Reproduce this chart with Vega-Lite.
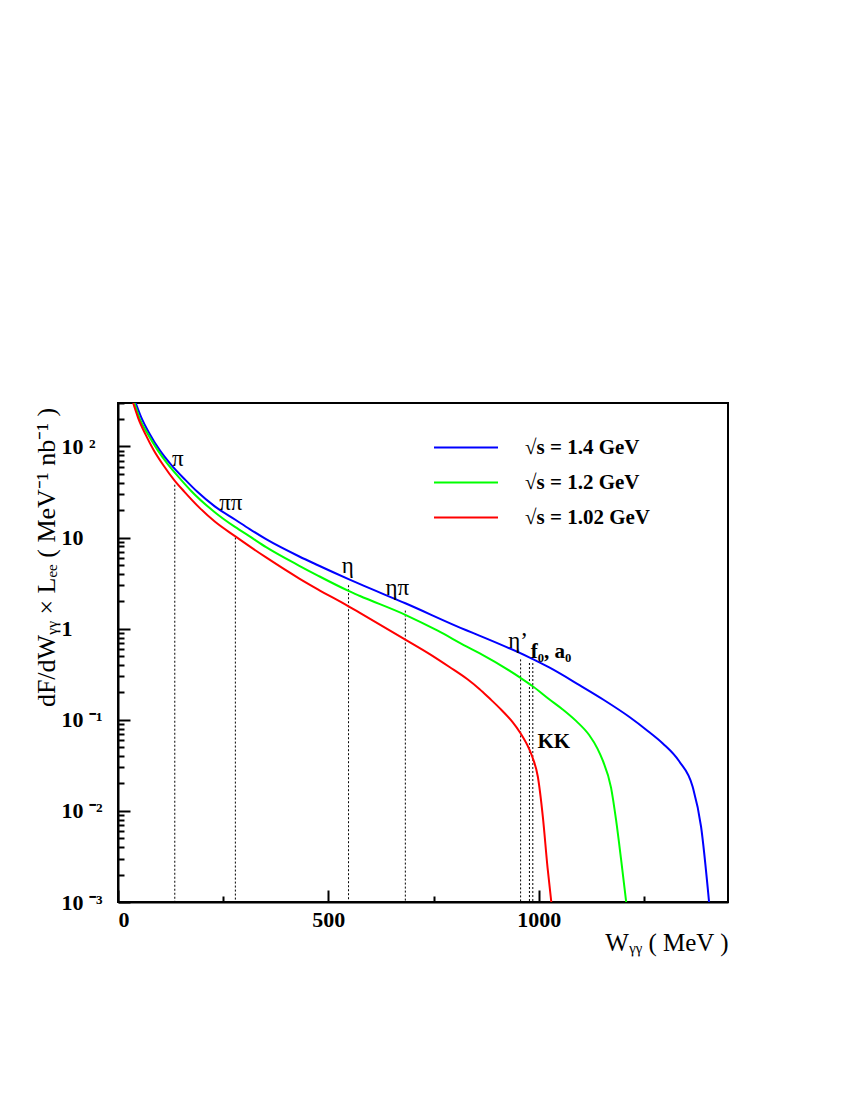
{
  "$schema": "https://vega.github.io/schema/vega-lite/v6.json",
  "autosize": {"type": "none"},
  "padding": {"left": 118, "top": 403, "right": 122, "bottom": 198},
  "width": 610,
  "height": 499,
  "background": "white",
  "config": {
    "view": {"stroke": "black", "strokeWidth": 2},
    "font": "Liberation Serif"
  },
  "datasets": {
    "curves": [
      {"W": 42, "F": 300, "s": "√s = 1.4 GeV"},
      {"W": 55, "F": 210, "s": "√s = 1.4 GeV"},
      {"W": 75, "F": 138, "s": "√s = 1.4 GeV"},
      {"W": 100, "F": 90, "s": "√s = 1.4 GeV"},
      {"W": 127, "F": 62.5, "s": "√s = 1.4 GeV"},
      {"W": 160, "F": 43, "s": "√s = 1.4 GeV"},
      {"W": 188, "F": 32, "s": "√s = 1.4 GeV"},
      {"W": 230, "F": 22, "s": "√s = 1.4 GeV"},
      {"W": 279, "F": 15.7, "s": "√s = 1.4 GeV"},
      {"W": 313, "F": 12.4, "s": "√s = 1.4 GeV"},
      {"W": 352, "F": 9.6, "s": "√s = 1.4 GeV"},
      {"W": 431, "F": 6.2, "s": "√s = 1.4 GeV"},
      {"W": 474, "F": 5.0, "s": "√s = 1.4 GeV"},
      {"W": 548, "F": 3.5, "s": "√s = 1.4 GeV"},
      {"W": 574, "F": 3.1, "s": "√s = 1.4 GeV"},
      {"W": 683, "F": 1.9, "s": "√s = 1.4 GeV"},
      {"W": 828, "F": 0.96, "s": "√s = 1.4 GeV"},
      {"W": 859, "F": 0.84, "s": "√s = 1.4 GeV"},
      {"W": 975, "F": 0.49, "s": "√s = 1.4 GeV"},
      {"W": 1025, "F": 0.375, "s": "√s = 1.4 GeV"},
      {"W": 1097, "F": 0.24, "s": "√s = 1.4 GeV"},
      {"W": 1155, "F": 0.165, "s": "√s = 1.4 GeV"},
      {"W": 1215, "F": 0.108, "s": "√s = 1.4 GeV"},
      {"W": 1260, "F": 0.075, "s": "√s = 1.4 GeV"},
      {"W": 1295, "F": 0.055, "s": "√s = 1.4 GeV"},
      {"W": 1334, "F": 0.035, "s": "√s = 1.4 GeV"},
      {"W": 1366, "F": 0.0184, "s": "√s = 1.4 GeV"},
      {"W": 1386, "F": 0.0067, "s": "√s = 1.4 GeV"},
      {"W": 1405, "F": 0.001, "s": "√s = 1.4 GeV"},
      {"W": 39, "F": 300, "s": "√s = 1.2 GeV"},
      {"W": 52, "F": 200, "s": "√s = 1.2 GeV"},
      {"W": 70.5, "F": 138, "s": "√s = 1.2 GeV"},
      {"W": 95, "F": 90, "s": "√s = 1.2 GeV"},
      {"W": 116, "F": 66, "s": "√s = 1.2 GeV"},
      {"W": 150, "F": 43, "s": "√s = 1.2 GeV"},
      {"W": 174, "F": 32.5, "s": "√s = 1.2 GeV"},
      {"W": 230, "F": 19, "s": "√s = 1.2 GeV"},
      {"W": 279, "F": 13, "s": "√s = 1.2 GeV"},
      {"W": 313, "F": 10.3, "s": "√s = 1.2 GeV"},
      {"W": 352, "F": 7.85, "s": "√s = 1.2 GeV"},
      {"W": 431, "F": 4.9, "s": "√s = 1.2 GeV"},
      {"W": 474, "F": 3.85, "s": "√s = 1.2 GeV"},
      {"W": 548, "F": 2.6, "s": "√s = 1.2 GeV"},
      {"W": 574, "F": 2.3, "s": "√s = 1.2 GeV"},
      {"W": 683, "F": 1.42, "s": "√s = 1.2 GeV"},
      {"W": 760, "F": 0.95, "s": "√s = 1.2 GeV"},
      {"W": 828, "F": 0.64, "s": "√s = 1.2 GeV"},
      {"W": 859, "F": 0.54, "s": "√s = 1.2 GeV"},
      {"W": 956, "F": 0.29, "s": "√s = 1.2 GeV"},
      {"W": 985, "F": 0.235, "s": "√s = 1.2 GeV"},
      {"W": 1025, "F": 0.168, "s": "√s = 1.2 GeV"},
      {"W": 1057, "F": 0.13, "s": "√s = 1.2 GeV"},
      {"W": 1090, "F": 0.096, "s": "√s = 1.2 GeV"},
      {"W": 1120, "F": 0.068, "s": "√s = 1.2 GeV"},
      {"W": 1140, "F": 0.048, "s": "√s = 1.2 GeV"},
      {"W": 1152, "F": 0.036, "s": "√s = 1.2 GeV"},
      {"W": 1172, "F": 0.018, "s": "√s = 1.2 GeV"},
      {"W": 1184, "F": 0.0079, "s": "√s = 1.2 GeV"},
      {"W": 1196, "F": 0.0029, "s": "√s = 1.2 GeV"},
      {"W": 1208, "F": 0.001, "s": "√s = 1.2 GeV"},
      {"W": 36, "F": 300, "s": "√s = 1.02 GeV"},
      {"W": 48, "F": 205, "s": "√s = 1.02 GeV"},
      {"W": 66, "F": 134, "s": "√s = 1.02 GeV"},
      {"W": 85, "F": 91, "s": "√s = 1.02 GeV"},
      {"W": 107, "F": 63, "s": "√s = 1.02 GeV"},
      {"W": 135, "F": 42, "s": "√s = 1.02 GeV"},
      {"W": 158, "F": 31.8, "s": "√s = 1.02 GeV"},
      {"W": 194, "F": 21.2, "s": "√s = 1.02 GeV"},
      {"W": 230, "F": 15, "s": "√s = 1.02 GeV"},
      {"W": 279, "F": 10.3, "s": "√s = 1.02 GeV"},
      {"W": 313, "F": 8.0, "s": "√s = 1.02 GeV"},
      {"W": 352, "F": 6.05, "s": "√s = 1.02 GeV"},
      {"W": 431, "F": 3.55, "s": "√s = 1.02 GeV"},
      {"W": 474, "F": 2.72, "s": "√s = 1.02 GeV"},
      {"W": 548, "F": 1.76, "s": "√s = 1.02 GeV"},
      {"W": 574, "F": 1.5, "s": "√s = 1.02 GeV"},
      {"W": 683, "F": 0.76, "s": "√s = 1.02 GeV"},
      {"W": 740, "F": 0.53, "s": "√s = 1.02 GeV"},
      {"W": 788, "F": 0.38, "s": "√s = 1.02 GeV"},
      {"W": 830, "F": 0.28, "s": "√s = 1.02 GeV"},
      {"W": 859, "F": 0.218, "s": "√s = 1.02 GeV"},
      {"W": 883, "F": 0.172, "s": "√s = 1.02 GeV"},
      {"W": 906, "F": 0.136, "s": "√s = 1.02 GeV"},
      {"W": 938, "F": 0.094, "s": "√s = 1.02 GeV"},
      {"W": 956, "F": 0.072, "s": "√s = 1.02 GeV"},
      {"W": 978, "F": 0.047, "s": "√s = 1.02 GeV"},
      {"W": 985, "F": 0.039, "s": "√s = 1.02 GeV"},
      {"W": 998, "F": 0.0237, "s": "√s = 1.02 GeV"},
      {"W": 1010, "F": 0.0085, "s": "√s = 1.02 GeV"},
      {"W": 1021, "F": 0.0024, "s": "√s = 1.02 GeV"},
      {"W": 1030, "F": 0.001, "s": "√s = 1.02 GeV"}
    ],
    "thresholds": [
      {"W": 135, "top": 38, "bottom": 0.001},
      {"W": 279, "top": 10, "bottom": 0.001},
      {"W": 548, "top": 3.0, "bottom": 0.001},
      {"W": 683, "top": 1.58, "bottom": 0.001},
      {"W": 957, "top": 0.46, "bottom": 0.001},
      {"W": 978, "top": 0.42, "bottom": 0.001},
      {"W": 986, "top": 0.42, "bottom": 0.001}
    ],
    "labels": [
      {"W": 142, "F": 72, "label": "π"},
      {"W": 268, "F": 24, "label": "ππ"},
      {"W": 546, "F": 4.9, "label": "η"},
      {"W": 664, "F": 2.8, "label": "ηπ"},
      {"W": 951, "F": 0.74, "label": "η’"}
    ],
    "boldlabels": [
      {"W": 981, "F": 0.56, "label": "f₀, a₀"},
      {"W": 997, "F": 0.057, "label": "KK"}
    ]
  },
  "layer": [
    {
      "data": {"name": "thresholds"},
      "mark": {"type": "rule", "color": "black", "strokeWidth": 1, "strokeDash": [2, 2]},
      "encoding": {
        "x": {"field": "W", "type": "quantitative"},
        "y": {"field": "top", "type": "quantitative"},
        "y2": {"field": "bottom"}
      }
    },
    {
      "data": {"name": "curves"},
      "mark": {"type": "line", "strokeWidth": 2, "interpolate": "monotone", "clip": true},
      "encoding": {
        "x": {
          "field": "W", "type": "quantitative",
          "scale": {"domain": [0, 1450], "nice": false, "zero": false},
          "axis": {
            "values": [0, 250, 500, 750, 1000, 1250],
            "labelExpr": "datum.value % 500 == 0 ? datum.label : ''",
            "format": "d",
            "grid": false,
            "domainColor": "black", "domainWidth": 2,
            "tickColor": "black", "tickWidth": 2,
            "tickSize": {"condition": {"test": "datum.value % 500 == 0", "value": -12}, "value": -6},
            "labelFont": "Liberation Serif", "labelFontWeight": "bold", "labelFontSize": 22,
            "labelColor": "black", "labelPadding": 19,
            "title": "Wᵧᵧ ( MeV )",
            "titleFont": "Liberation Serif", "titleFontWeight": "normal", "titleFontSize": 25,
            "titleColor": "black",
            "titleX": 610, "titleY": 40, "titleAlign": "right", "titleBaseline": "middle", "titleAnchor": null
          }
        },
        "y": {
          "field": "F", "type": "quantitative",
          "scale": {"type": "log", "domain": [0.001, 300], "nice": false},
          "axis": {
            "values": [0.001, 0.002, 0.003, 0.004, 0.005, 0.006, 0.007, 0.008, 0.009,
                       0.01, 0.02, 0.03, 0.04, 0.05, 0.06, 0.07, 0.08, 0.09,
                       0.1, 0.2, 0.3, 0.4, 0.5, 0.6, 0.7, 0.8, 0.9,
                       1, 2, 3, 4, 5, 6, 7, 8, 9,
                       10, 20, 30, 40, 50, 60, 70, 80, 90,
                       100, 200, 300],
            "labelExpr": "datum.value == 100 ? '10 ²' : datum.value == 10 ? '10' : datum.value == 1 ? '\u00a0\u00a01' : datum.value == 0.1 ? '10 ⁻¹' : datum.value == 0.01 ? '10 ⁻²' : datum.value == 0.001 ? '10 ⁻³' : ''",
            "grid": false,
            "domainColor": "black", "domainWidth": 2,
            "tickColor": "black", "tickWidth": 2,
            "tickSize": {"condition": {"test": "indexof([0.001,0.01,0.1,1,10,100], datum.value) >= 0", "value": -12}, "value": -6},
            "labelFont": "Liberation Serif", "labelFontWeight": "bold", "labelFontSize": 22,
            "labelColor": "black", "labelAlign": "left", "labelBaseline": "middle",
            "labelPadding": 69,
            "labelOverlap": false,
            "title": "dF/dWᵧᵧ × Lₑₑ   ( MeV⁻¹ nb⁻¹ )",
            "titleFont": "Liberation Serif", "titleFontWeight": "normal", "titleFontSize": 26,
            "titleColor": "black",
            "titleX": -72, "titleY": 154, "titleAlign": "center", "titleBaseline": "middle", "titleAngle": -90, "titleAnchor": null
          }
        },
        "color": {
          "field": "s", "type": "nominal",
          "scale": {"domain": ["√s = 1.4 GeV", "√s = 1.2 GeV", "√s = 1.02 GeV"], "range": ["#0000ff", "#00ff00", "#ff0000"]},
          "legend": {
            "title": null,
            "orient": "none",
            "legendX": 315, "legendY": 27,
            "direction": "vertical",
            "symbolType": "stroke",
            "symbolSize": 4096,
            "symbolStrokeWidth": 2,
            "clipHeight": 35,
            "labelFont": "Liberation Serif", "labelFontWeight": "bold", "labelFontSize": 21,
            "labelColor": "black", "labelOffset": 26,
            "rowPadding": 0,
            "labelLimit": 300
          }
        }
      }
    },
    {
      "data": {"name": "labels"},
      "mark": {"type": "text", "font": "Liberation Serif", "fontSize": 23, "color": "black", "align": "center", "baseline": "middle"},
      "encoding": {
        "x": {"field": "W", "type": "quantitative"},
        "y": {"field": "F", "type": "quantitative"},
        "text": {"field": "label"}
      }
    },
    {
      "data": {"name": "boldlabels"},
      "mark": {"type": "text", "font": "Liberation Serif", "fontSize": 21, "fontWeight": "bold", "color": "black", "align": "left", "baseline": "middle"},
      "encoding": {
        "x": {"field": "W", "type": "quantitative"},
        "y": {"field": "F", "type": "quantitative"},
        "text": {"field": "label"}
      }
    }
  ]
}
